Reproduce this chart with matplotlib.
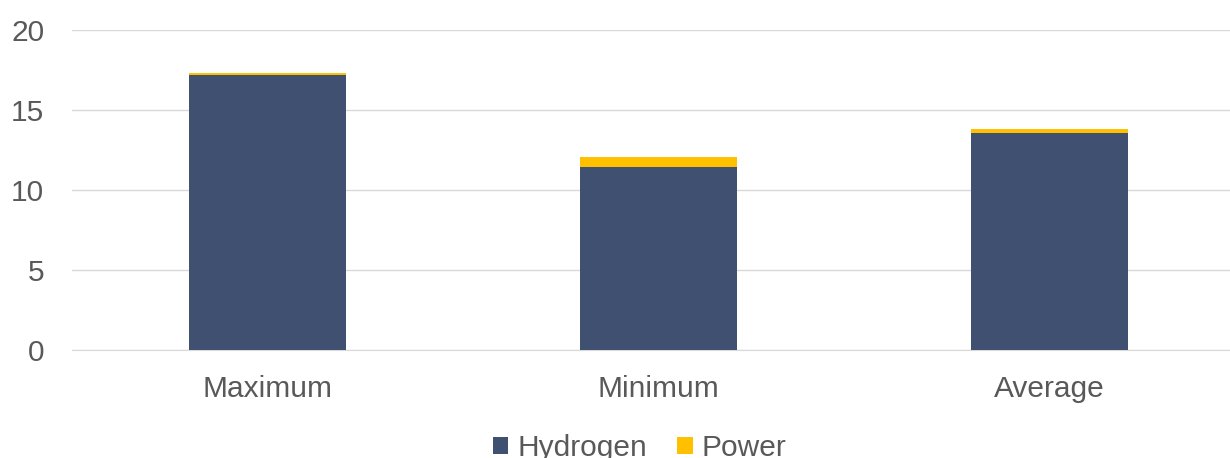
import matplotlib.pyplot as plt
import numpy as np

plt.rcParams['font.family'] = ['Liberation Sans', 'DejaVu Sans']

categories = ['Maximum', 'Minimum', 'Average']
hydrogen = [17.2, 11.45, 13.55]
power = [0.12, 0.62, 0.27]

fig = plt.figure(figsize=(12.3, 4.58), dpi=100)
ax = fig.add_axes([72 / 1230, 108 / 458, 1173 / 1230, 320 / 458])

x = np.arange(len(categories))
ax.bar(x, hydrogen, width=0.4, color='#3f5070', label='Hydrogen', zorder=3)
ax.bar(x, power, width=0.4, bottom=hydrogen, color='#ffc000', label='Power', zorder=3)

ax.set_xlim(-0.5, 2.5)
ax.set_ylim(0, 20)
ax.set_yticks([0, 5, 10, 15, 20])
ax.set_xticks(x)
ax.set_xticklabels(categories)
ax.tick_params(axis='both', length=0, labelsize=21.5, colors='#595959')
ax.tick_params(axis='y', pad=20)
ax.tick_params(axis='x', pad=18)
ax.grid(axis='y', color='#d9d9d9', linewidth=1, zorder=0)
for s in ['top', 'right', 'left']:
    ax.spines[s].set_visible(False)
ax.spines['bottom'].set_color('#d9d9d9')

leg = fig.legend(loc='lower center', bbox_to_anchor=(0.52, -0.068), ncol=2, frameon=False,
                 fontsize=21.5, handlelength=0.53, handleheight=0.53, handletextpad=0.3,
                 columnspacing=1.0, labelcolor='#595959')

fig.savefig('out.png', dpi=100)
